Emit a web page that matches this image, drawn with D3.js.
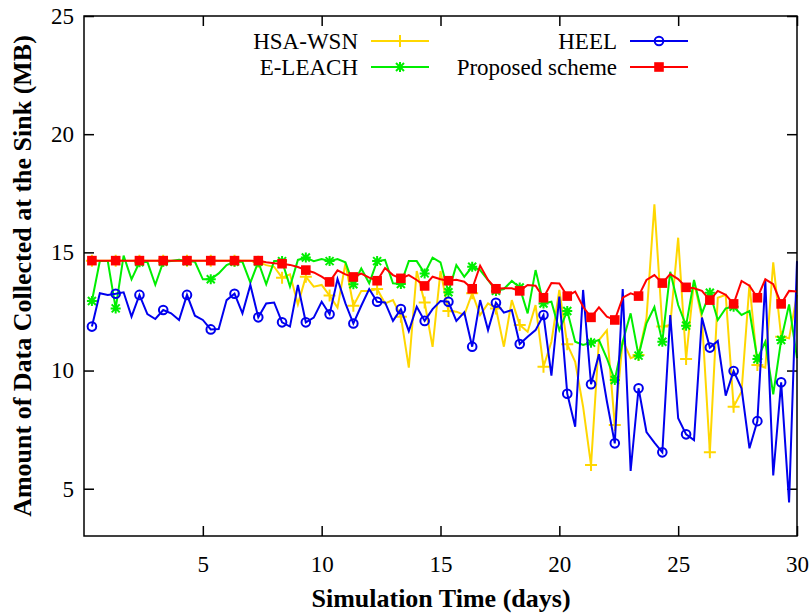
<!DOCTYPE html>
<html>
<head>
<meta charset="utf-8">
<script src="https://cdn.jsdelivr.net/npm/d3@7"></script>
<style>
  body { margin: 0; background: #fff; }
</style>
</head>
<body>
<svg id="chart"></svg>
<script>
// Samples every 1/3 day (k = 1..90)
const days = d3.range(1, 91).map(k => k / 3);

const seriesNames = ['HSA-WSN', 'E-LEACH', 'HEEL', 'Proposed scheme'];

const hsaWsn = [
  14.65, 14.65, 14.65, 14.65, 14.65, 14.65, 14.65, 14.65, 14.65, 14.65, 14.65,
  14.65, 14.65, 14.65, 14.65, 14.65, 14.65, 14.65, 14.65, 14.65, 14.65, 14.6,
  14.46, 14.39, 13.93, 14.07, 12.8, 13.97, 13.55, 13.62, 13.17, 12.66, 14.54,
  12.74, 13.37, 13.37, 13.45, 12.84, 12.98, 12.28, 10.12, 14.21, 12.88, 11.0,
  14.21, 12.52, 12.49, 12.35, 13.27, 12.35, 12.84, 12.63, 11.01, 12.98, 11.93,
  11.64, 12.77, 10.16, 11.22, 13.41, 11.11, 10.37, 8.47, 6.0, 11.29, 11.7, 7.7,
  11.29, 10.52, 10.66, 12.21, 17.03, 11.86, 11.93, 15.62, 10.49, 13.76, 12.21,
  6.54, 13.08, 13.2, 8.47, 9.1, 13.65, 10.23, 10.12, 14.58, 11.43, 11.36, 13.2
];

const eLeach = [
  12.94, 14.63, 14.63, 12.63, 14.86, 13.86, 14.58, 14.6, 13.63, 14.6, 14.63,
  14.69, 14.63, 14.6, 13.86, 13.86, 14.11, 14.46, 14.6, 14.6, 13.72, 14.6,
  13.65, 14.63, 14.63, 13.55, 14.68, 14.78, 14.63, 14.72, 14.63, 14.72, 14.58,
  13.65, 14.32, 13.69, 14.63, 14.68, 13.69, 13.66, 14.63, 14.63, 14.11, 14.78,
  14.58, 13.31, 14.46, 13.97, 14.39, 14.25, 13.83, 13.37, 13.45, 13.79, 13.51,
  12.42, 14.25, 12.84, 12.91, 11.71, 12.52, 11.22, 11.08, 11.18, 11.29, 10.52, 9.6,
  11.22, 12.42, 10.63, 12.0, 12.69, 11.22, 14.18, 12.77, 11.9, 13.83, 12.42,
  13.29, 12.14, 12.63, 12.7, 12.35, 12.52, 10.49, 11.22, 8.99, 11.29, 12.8, 10.52
];

const heel = [
  11.86, 13.27, 13.2, 13.25, 13.31, 12.28, 13.2, 12.39, 12.18, 12.56, 12.42,
  12.14, 13.2, 12.32, 12.14, 11.74, 11.76, 12.98, 13.25, 12.42, 13.62, 12.25,
  12.84, 12.88, 12.04, 11.86, 13.62, 12.04, 12.24, 12.91, 12.38, 13.87, 12.84,
  11.99, 12.74, 13.45, 12.91, 12.88, 12.1, 12.6, 11.67, 12.7, 12.1, 12.6,
  12.94, 12.91, 12.1, 12.46, 11.01, 12.98, 11.71, 12.87, 12.45, 12.56, 11.12,
  11.43, 11.71, 12.35, 9.78, 13.13, 9.02, 7.62, 13.41, 9.42, 10.69, 8.7, 6.92,
  13.45, 5.75, 9.25, 7.4, 6.95, 6.54, 12.35, 7.98, 7.3, 7.06, 12.24,
  10.97, 11.25, 8.94, 9.98, 9.25, 6.71, 7.86, 13.79, 5.56, 9.5, 4.42, 14.63
];

const proposed = [
  14.65, 14.65, 14.65, 14.65, 14.65, 14.65, 14.65, 14.65, 14.65, 14.65, 14.65,
  14.65, 14.65, 14.65, 14.65, 14.65, 14.65, 14.65, 14.65, 14.65, 14.65, 14.65,
  14.58, 14.54, 14.52, 14.47, 14.38, 14.25, 14.15, 13.97, 13.75, 14.24, 14.07,
  13.96, 14.1, 13.93, 13.8, 14.34, 14.04, 13.9, 14.04, 13.83, 13.58, 13.97,
  13.86, 13.8, 13.84, 13.76, 13.46, 14.44, 13.83, 13.46, 13.48, 13.48, 13.37,
  13.62, 13.59, 13.08, 13.7, 13.68, 13.15, 13.34, 12.7, 12.25, 12.67, 12.28, 12.14,
  13.08, 13.27, 13.15, 13.83, 14.04, 13.7, 14.08, 13.87, 13.52, 13.48, 13.37,
  12.98, 13.37, 13.2, 12.82, 13.79, 13.59, 13.08, 13.86, 13.65, 12.82, 13.37, 13.34
];

const xTicks = [5, 10, 15, 20, 25, 30];
const yTicks = [5, 10, 15, 20, 25];

const series = [
  { name: seriesNames[0], values: hsaWsn, color: '#ffd700', marker: 'plus' },
  { name: seriesNames[1], values: eLeach, color: '#00ee00', marker: 'star' },
  { name: seriesNames[2], values: heel, color: '#0000ee', marker: 'circle' },
  { name: seriesNames[3], values: proposed, color: '#ff0000', marker: 'square' }
];

const width = 810;
const height = 616;
const margin = { top: 16, right: 13, bottom: 80, left: 84 };
const serif = '"Liberation Serif", "Times New Roman", Times, serif';
const tickFont = 23;

const svg = d3.select('#chart')
  .attr('width', width)
  .attr('height', height)
  .attr('font-family', serif);

const x = d3.scaleLinear()
  .domain([0, 30])
  .range([margin.left, width - margin.right]);

const y = d3.scaleLinear()
  .domain([3, 25])
  .range([height - margin.bottom, margin.top]);

// axes, ticks pointing inward on all four sides
svg.append('g')
  .attr('transform', `translate(0, ${height - margin.bottom})`)
  .call(d3.axisBottom(x).tickValues(xTicks).tickSize(-10).tickPadding(20));
svg.append('g')
  .attr('transform', `translate(0, ${margin.top})`)
  .call(d3.axisTop(x).tickValues(xTicks).tickSize(-10).tickFormat(''));
svg.append('g')
  .attr('transform', `translate(${margin.left}, 0)`)
  .call(d3.axisLeft(y).tickValues(yTicks).tickSize(-10).tickPadding(10));
svg.append('g')
  .attr('transform', `translate(${width - margin.right}, 0)`)
  .call(d3.axisRight(y).tickValues(yTicks).tickSize(-10).tickFormat(''));

svg.selectAll('.domain').remove();
svg.selectAll('g').attr('font-family', serif).attr('font-size', tickFont);
svg.selectAll('.tick line').attr('stroke', '#000').attr('stroke-width', 1.5);
svg.selectAll('.tick text').attr('fill', '#000');

// markers
function drawMarker(g, type, cx, cy, color) {
  if (type === 'plus') {
    g.append('path')
      .attr('d', `M${cx - 6},${cy}H${cx + 6}M${cx},${cy - 6}V${cy + 6}`)
      .attr('stroke', color).attr('stroke-width', 2).attr('fill', 'none');
  } else if (type === 'star') {
    g.append('path')
      .attr('d', `M${cx - 5},${cy}H${cx + 5}M${cx},${cy - 5}V${cy + 5}` +
        `M${cx - 4},${cy - 4}L${cx + 4},${cy + 4}M${cx - 4},${cy + 4}L${cx + 4},${cy - 4}`)
      .attr('stroke', color).attr('stroke-width', 2).attr('fill', 'none');
  } else if (type === 'circle') {
    g.append('circle')
      .attr('cx', cx).attr('cy', cy).attr('r', 4.3)
      .attr('stroke', color).attr('stroke-width', 2).attr('fill', 'none');
  } else {
    g.append('rect')
      .attr('x', cx - 4.8).attr('y', cy - 4.8)
      .attr('width', 9.6).attr('height', 9.6)
      .attr('fill', color);
  }
}

const line = d3.line()
  .x((d, i) => x(days[i]))
  .y(d => y(d));

series.forEach(s => {
  const g = svg.append('g');
  g.append('path')
    .datum(s.values)
    .attr('fill', 'none')
    .attr('stroke', s.color)
    .attr('stroke-width', 2)
    .attr('d', line);
  s.values.forEach((v, i) => {
    if (i % 3 === 0) drawMarker(g, s.marker, x(days[i]), y(v), s.color);
  });
});

// plot frame
svg.append('rect')
  .attr('x', margin.left)
  .attr('y', margin.top)
  .attr('width', width - margin.left - margin.right)
  .attr('height', height - margin.top - margin.bottom)
  .attr('fill', 'none')
  .attr('stroke', '#000')
  .attr('stroke-width', 1.5);

// legend in two columns
const legendPos = [
  { tx: 358, y: 41 }, { tx: 358, y: 67 },
  { tx: 617, y: 41 }, { tx: 617, y: 67 }
];
series.forEach((s, i) => {
  const p = legendPos[i];
  const g = svg.append('g');
  g.append('text')
    .attr('x', p.tx)
    .attr('y', p.y)
    .attr('dy', '0.35em')
    .attr('text-anchor', 'end')
    .attr('font-family', serif)
    .attr('font-size', tickFont)
    .text(s.name);
  g.append('line')
    .attr('x1', p.tx + 13).attr('x2', p.tx + 71)
    .attr('y1', p.y).attr('y2', p.y)
    .attr('stroke', s.color).attr('stroke-width', 2);
  drawMarker(g, s.marker, p.tx + 42, p.y, s.color);
});

// axis labels
svg.append('text')
  .attr('x', 441)
  .attr('y', 607)
  .attr('text-anchor', 'middle')
  .attr('font-family', serif)
  .attr('font-size', 26)
  .attr('font-weight', 'bold')
  .text('Simulation Time (days)');

svg.append('text')
  .attr('transform', 'rotate(-90)')
  .attr('x', -(margin.top + height - margin.bottom) / 2)
  .attr('y', 31)
  .attr('text-anchor', 'middle')
  .attr('font-family', serif)
  .attr('font-size', 26)
  .attr('font-weight', 'bold')
  .text('Amount of Data Collected at the Sink (MB)');
</script>
</body>
</html>
